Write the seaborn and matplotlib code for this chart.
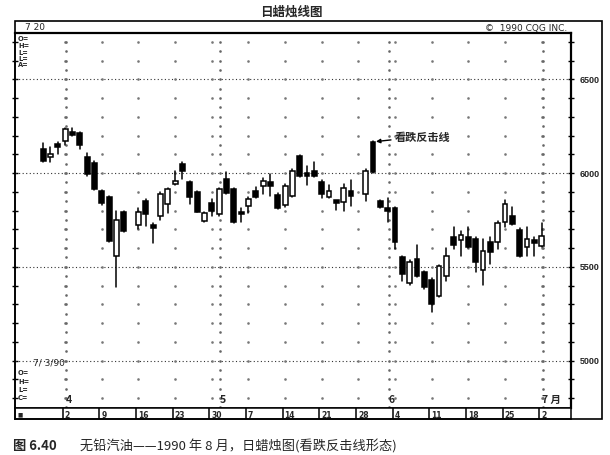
import numpy as np
import pandas as pd
import matplotlib
matplotlib.use("Agg")
from matplotlib import pyplot as plt
from matplotlib.patches import Rectangle
import matplotlib.transforms as mtransforms
import seaborn as sns

# Daily candles, unleaded gas (Aug 1990 contract)
dates = ["03-28", "03-29", "03-30", "04-02", "04-03", "04-04", "04-05", "04-06",
         "04-09", "04-10", "04-11", "04-12", "04-16", "04-17", "04-18", "04-19",
         "04-20", "04-23", "04-24", "04-25", "04-26", "04-27", "04-30", "05-01",
         "05-02", "05-03", "05-04", "05-07", "05-08", "05-09", "05-10", "05-11",
         "05-14", "05-15", "05-16", "05-17", "05-18", "05-21", "05-22", "05-23",
         "05-24", "05-25", "05-29", "05-30", "05-31", "06-01", "06-04", "06-05",
         "06-06", "06-07", "06-08", "06-11", "06-12", "06-13", "06-14", "06-15",
         "06-18", "06-19", "06-20", "06-21", "06-22", "06-25", "06-26", "06-27",
         "06-28", "06-29", "07-02"]
opens = [6128, 6085, 6149, 6172, 6213, 6213, 6085, 6053,
         5904, 5872, 5557, 5792, 5723, 5851, 5712, 5771,
         5835, 5941, 6048, 5952, 5899, 5744, 5840, 5781,
         5968, 5915, 5792, 5825, 5904, 5931, 5952, 5883,
         5829, 5877, 6091, 5995, 6011, 5952, 5872, 5845,
         5845, 5904, 5888, 6165, 5851, 5813, 5813, 5552,
         5413, 5541, 5472, 5429, 5344, 5451, 5659, 5643,
         5659, 5648, 5483, 5632, 5632, 5739, 5771, 5696,
         5605, 5637, 5611]
highs = [6160, 6139, 6165, 6240, 6240, 6219, 6107, 6064,
         5909, 5877, 5797, 5797, 5813, 5861, 5733, 5899,
         5920, 6011, 6059, 5957, 5904, 5792, 5861, 5920,
         6005, 5920, 5813, 5872, 5925, 5973, 5995, 5893,
         5941, 6021, 6096, 6037, 6059, 5963, 5936, 5851,
         5941, 5963, 6021, 6171, 5856, 5867, 5819, 5557,
         5536, 5616, 5477, 5440, 5509, 5600, 5712, 5691,
         5712, 5659, 5648, 5659, 5744, 5856, 5819, 5707,
         5712, 5659, 5733]
lows = [6059, 6059, 6101, 6149, 6197, 6128, 5984, 5909,
        5829, 5632, 5392, 5685, 5701, 5717, 5627, 5749,
        5787, 5936, 5968, 5835, 5790, 5740, 5771, 5771,
        5888, 5733, 5739, 5787, 5867, 5888, 5877, 5808,
        5819, 5872, 5977, 5936, 5979, 5867, 5867, 5803,
        5797, 5824, 5851, 6000, 5813, 5739, 5595, 5424,
        5403, 5445, 5381, 5259, 5339, 5424, 5595, 5557,
        5600, 5472, 5403, 5515, 5595, 5712, 5723, 5552,
        5557, 5557, 5605]
closes = [6064, 6101, 6139, 6235, 6203, 6149, 5995, 5915,
          5840, 5637, 5749, 5691, 5792, 5781, 5707, 5888,
          5915, 5957, 6011, 5872, 5795, 5787, 5797, 5915,
          5893, 5739, 5781, 5861, 5872, 5957, 5931, 5813,
          5931, 6011, 5982, 5984, 5984, 5888, 5904, 5840,
          5920, 5877, 6011, 6005, 5819, 5797, 5632, 5461,
          5525, 5451, 5392, 5301, 5504, 5557, 5616, 5669,
          5605, 5525, 5584, 5579, 5733, 5835, 5728, 5557,
          5648, 5627, 5664]

week_labels = ["2", "9", "16", "23", "30", "7", "14", "21", "28", "4", "11", "18", "25", "2"]
month_labels = ["4", "5", "6", "7 月"]
price_labels = [5000, 5500, 6000, 6500]

CJK = ["Noto Sans CJK SC", "DejaVu Sans"]

# one slot per business day, holidays stay empty
days = pd.bdate_range("1990-03-28", "1990-07-02")
slot = {d: i for i, d in enumerate(days)}
df = pd.DataFrame({"date": pd.to_datetime(["1990-" + d for d in dates]),
                   "open": opens, "high": highs, "low": lows, "close": closes})
df["x"] = df["date"].map(slot)

mondays = [slot[d] for d in days if d.weekday() == 0]
month_starts = [slot[d] for i, d in enumerate(days) if i > 0 and d.month != days[i - 1].month]

sns.set_theme(style="white")
plt.rcParams["font.family"] = ["DejaVu Sans", "Noto Sans CJK SC"]

W, H = 610, 456
fig = plt.figure(figsize=(6.1, 4.56), dpi=100)
fig.patch.set_facecolor("white")

def fx(px):
    return px / W

def fy(py):
    return 1 - py / H

ax = fig.add_axes([fx(15), fy(409), fx(571) - fx(15), fy(34) - fy(409)])
ax.set_xlim(-3.82, 72.0)
ax.set_ylim(4747, 6747)

# grid: dotted horizontals at 500s, sparse dots on week / month columns
for p in price_labels:
    ax.axhline(p, color="#333", lw=0.8, ls=(0, (1, 2.2)), zorder=1)
levels = np.arange(4800, 6800, 100)
for m in mondays:
    ax.plot([m] * len(levels), levels, ls="none", marker="s", ms=0.8, color="#777", zorder=1)
lv2 = np.arange(4750, 6750, 50)
for m in month_starts:
    ax.plot([m + 0.2] * len(lv2), lv2, ls="none", marker="s", ms=0.8, color="#666", zorder=1)

# wicks
wick = pd.concat([
    pd.DataFrame({"x": df["x"], "price": df["low"], "day": df.index}),
    pd.DataFrame({"x": df["x"], "price": df["high"], "day": df.index}),
])
sns.lineplot(data=wick, x="x", y="price", units="day", estimator=None,
             color="black", lw=1.1, ax=ax, legend=False, sort=False, zorder=2)

# bodies
up = df["close"] >= df["open"]
bottom = np.minimum(df["open"], df["close"])
height = np.maximum((df["close"] - df["open"]).abs(), 14)
ax.bar(df["x"], height, bottom=bottom, width=0.68,
       color=np.where(up, "white", "black"), edgecolor="black", lw=1.1, zorder=3)

ax.set_xlabel("")
ax.set_ylabel("")
ax.set_xticks([])
ax.set_yticks(levels)
ax.yaxis.set_ticks_position("both")
ax.tick_params(axis="y", which="both", direction="inout", length=4, width=1,
               labelleft=False, labelright=False, color="black")
for side in ["top", "right"]:
    ax.spines[side].set_linewidth(1.6)
for side in ["left", "bottom"]:
    ax.spines[side].set_linewidth(1.1)
for s in ax.spines.values():
    s.set_color("black")

trans = mtransforms.blended_transform_factory(fig.transFigure, ax.transData)
for p in price_labels:
    fig.text(fx(590), p, str(p), transform=trans, ha="center", va="center",
             fontsize=6.5, fontweight="bold", family="Liberation Sans")

# month numbers
for m, lab in zip(month_starts, month_labels):
    ax.text(m + 0.1, 0.025, lab, transform=ax.get_xaxis_transform(), ha="left",
            va="center", fontsize=7.5, fontweight="bold", family=CJK)

ax.annotate("看跌反击线", xy=(45.4, 6168), xytext=(47.9, 6195),
            fontsize=8, fontweight="bold", family=CJK, ha="left", va="center",
            arrowprops=dict(arrowstyle="-|>", color="black", lw=1, mutation_scale=6,
                            shrinkA=0, shrinkB=0))

# date strip
ax2 = fig.add_axes([fx(15), fy(420), fx(571) - fx(15), fy(409) - fy(420)])
ax2.set_xlim(ax.get_xlim())
ax2.set_ylim(0, 1)
ax2.set_xticks([])
ax2.set_yticks([])
for s in ax2.spines.values():
    s.set_color("black")
    s.set_linewidth(1.1)
for m, lab in zip(mondays, week_labels):
    ax2.axvline(m - 0.3, color="black", lw=1.1)
    ax2.text(m - 0.05, 0.45, lab, ha="left", va="center", fontsize=5.5, fontweight="bold")
ax2.text(-3.5, 0.45, "■", ha="left", va="center", fontsize=4)

# outer frame
fig.add_artist(Rectangle((fx(15), fy(420)), fx(602) - fx(15), fy(22) - fy(420),
                         transform=fig.transFigure, fill=False, ec="black", lw=1.2))

fig.text(fx(291), fy(12), "日蜡烛线图", ha="center", va="center", fontsize=9,
         fontweight="bold", family=CJK)
fig.text(fx(25), fy(28), "7 20", ha="left", va="center", fontsize=6.5)
fig.text(fx(567), fy(29), "©  1990 CQG INC.", ha="right", va="center", fontsize=6.5)

for py, lab in zip([39, 46, 53, 59, 65], ["O=", "H=", "L=", "L=", "A="]):
    fig.text(fx(18), fy(py), lab, ha="left", va="center", fontsize=4.8, fontweight="bold")
fig.text(fx(33), fy(363), "7/ 3/90", ha="left", va="center", fontsize=6.5)
for py, lab in zip([373, 382, 390, 398], ["O=", "H=", "L=", "C="]):
    fig.text(fx(18), fy(py), lab, ha="left", va="center", fontsize=4.8, fontweight="bold")

fig.text(fx(13), fy(446), "图 6.40", ha="left", va="center", fontsize=9.5,
         fontweight="bold", family=CJK)
fig.text(fx(80), fy(446), "无铅汽油——1990 年 8 月，日蜡烛图(看跌反击线形态)",
         ha="left", va="center", fontsize=9.5, family=CJK)

plt.savefig("out.png", dpi=100)
